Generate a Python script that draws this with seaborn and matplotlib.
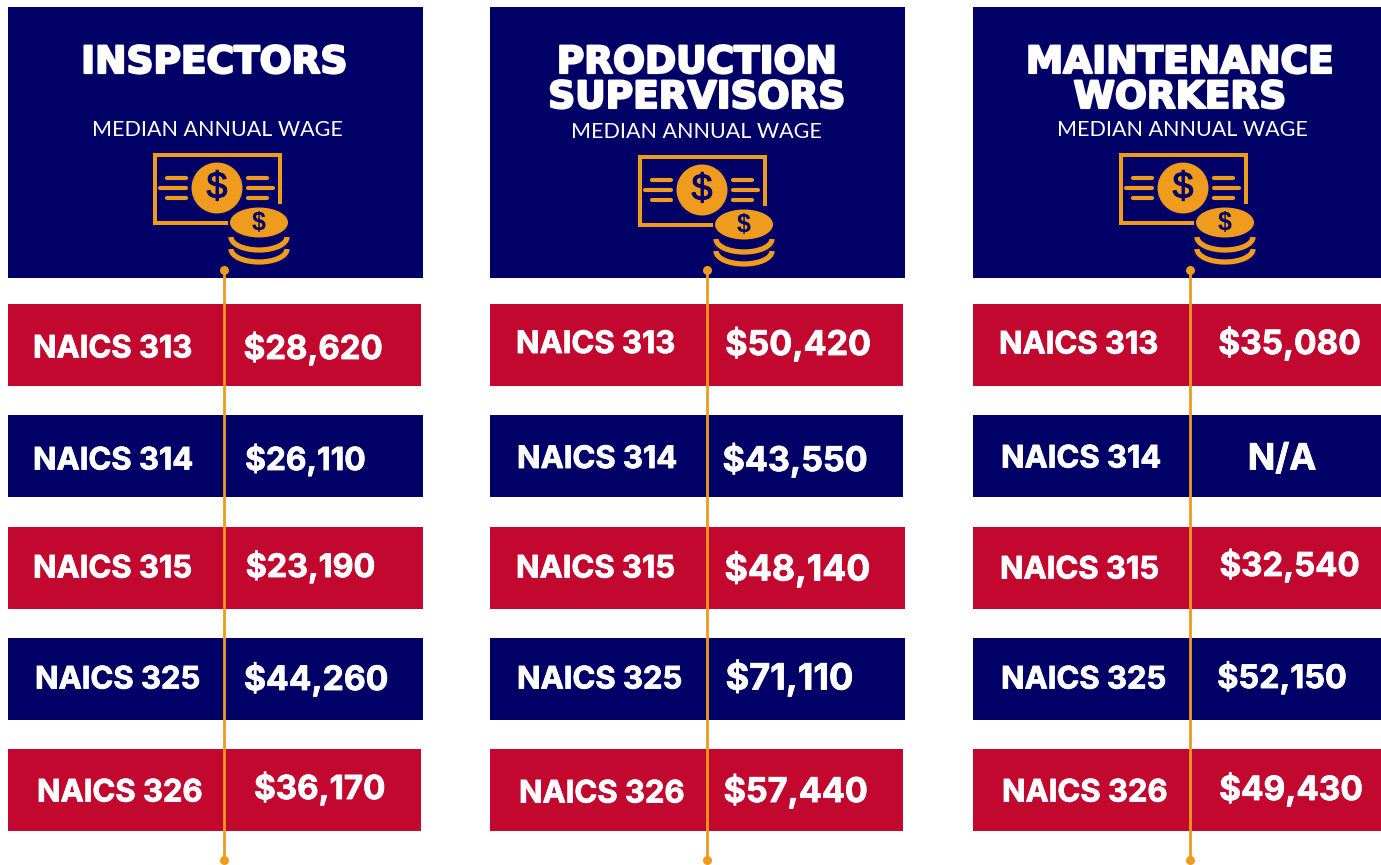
import matplotlib
matplotlib.use("Agg")
import matplotlib.pyplot as plt
import matplotlib.patheffects as pe
from matplotlib.patches import Rectangle, Ellipse, Circle, Arc
import seaborn as sns
import pandas as pd

# ---- data ----
occupations = ["INSPECTORS", "PRODUCTION\nSUPERVISORS", "MAINTENANCE\nWORKERS"]
subtitle = "MEDIAN ANNUAL WAGE"
naics = ["NAICS 313", "NAICS 314", "NAICS 315", "NAICS 325", "NAICS 326"]
wages_inspectors = ["$28,620", "$26,110", "$23,190", "$44,260", "$36,170"]
wages_supervisors = ["$50,420", "$43,550", "$48,140", "$71,110", "$57,440"]
wages_maintenance = ["$35,080", "N/A", "$32,540", "$52,150", "$49,430"]
cell_span = [1, 1, 1, 1, 1]

# ---- palette ----
NAVY, RED, GOLD = "#000066", "#C2082F", "#EE9B1E"
row_colors = [RED, NAVY, RED, NAVY, RED]

# ---- layout (pixels) ----
W, H = 1381, 865
panel_left = [8, 490, 973]
panel_width = [415, 415, 415]
row_right = [[421, 423, 423, 423, 421], [903, 903, 905, 905, 903], [1381] * 5]
line_x = [224, 707, 1190]
icon_x = [217, 702, 1183]
icon_y = [0, 2, 0]
title_cx = [214.5, 697, 1180]
title_y = [[63], [63, 98], [63, 98]]
sub_x = [217.5, 696, 1182.5]
sub_y = [130, 132, 130]
row_pitch_top, row_pitch_bot = 289.5, 845.9
label_x = [[33, 33, 33, 35, 37], [516, 517, 516, 517, 519], [999, 1001, 1000, 1001, 1002]]
label_y = [[349.5, 461.5, 569.5, 680.5, 793.5], [345, 460, 569.5, 680.5, 794.5], [345.5, 459.5, 570.5, 680.5, 793.5]]
value_x = [[313, 305.5, 310.5, 316, 319.5], [798, 795, 797.5, 789.5, 795.5], [1289.5, 1282, 1289.5, 1282, 1291]]
value_y = [[349, 460, 567, 679, 789], [344, 460, 569, 678, 791], [343, 460, 566, 678, 789]]
value_size = [[23.7, 22.8, 23.2, 24.2, 23.8], [24.5, 24.5, 25.6, 26, 24.5], [24, 26, 23.7, 23.3, 24]]

sns.set_theme(style="white")
fig = plt.figure(figsize=(W / 100, H / 100), dpi=100, facecolor="white")

# rows: one seaborn bar per NAICS code
wages = [wages_inspectors, wages_supervisors, wages_maintenance]
for p in range(3):
    left = panel_left[p]
    ax = fig.add_axes([left / W, 1 - row_pitch_bot / H, panel_width[p] / W,
                       (row_pitch_bot - row_pitch_top) / H])
    df = pd.DataFrame({"naics": naics, "span": cell_span, "wage": wages[p]})
    sns.barplot(data=df, y="naics", x="span", hue="naics", palette=row_colors,
                orient="h", width=0.737, legend=False, ax=ax, saturation=1)
    for bar, r in zip(ax.patches, row_right[p]):
        bar.set_width((r - left) / panel_width[p])
        bar.set_linewidth(0)
    ax.set_xlim(0, 1)
    ax.set_ylim(4.5, -0.5)
    ax.axis("off")
    ax.patch.set_alpha(0)

# overlay in pixel coordinates
ov = fig.add_axes([0, 0, 1, 1], zorder=5)
ov.set_xlim(0, W)
ov.set_ylim(H, 0)
ov.axis("off")
ov.patch.set_alpha(0)


def icon(cx, dy):
    ov.add_patch(Rectangle((cx - 62, 155 + dy), 125, 68, fc="none", ec=GOLD, lw=2.9, zorder=3))
    ov.add_patch(Rectangle((cx + 14, 204 + dy), 60, 26, fc=NAVY, ec="none", zorder=3.1))
    ov.add_patch(Circle((cx, 188 + dy), 25.5, fc=GOLD, ec="none", zorder=4))
    ov.text(cx, 188 + dy, "$", color=NAVY, ha="center", va="center", fontsize=27,
            family="Liberation Sans", zorder=5,
            path_effects=[pe.withStroke(linewidth=0.7, foreground=NAVY)])
    for off, outer_l, outer_r in [(-10, 50, 50), (0, 57, 56), (10, 50, 50)]:
        ov.plot([cx - outer_l, cx - 31], [188 + dy + off] * 2, color=GOLD, lw=3,
                solid_capstyle="round", zorder=4)
        ov.plot([cx + 31, cx + outer_r], [188 + dy + off] * 2, color=GOLD, lw=3,
                solid_capstyle="round", zorder=4)
    ccx = cx + 42
    for yy in (237, 249):
        ov.add_patch(Arc((ccx, yy + dy), 56, 26, theta1=0, theta2=180, ec=GOLD, lw=3.8, zorder=4))
    ov.add_patch(Ellipse((ccx, 223 + dy), 62, 34, fc=NAVY, ec="none", zorder=4.5))
    ov.add_patch(Ellipse((ccx, 222.5 + dy), 58, 30, fc=GOLD, ec="none", zorder=5))
    ov.text(ccx, 223 + dy, "$", color=NAVY, ha="center", va="center", fontsize=18,
            fontweight="bold", family="Liberation Sans", zorder=6)


for p in range(3):
    left = panel_left[p]
    ov.add_patch(Rectangle((left, 7), panel_width[p], 271, fc=NAVY, ec="none", zorder=1))
    for line, y in zip(occupations[p].split("\n"), title_y[p]):
        ov.text(title_cx[p], y, line, color="white", ha="center", va="center",
                fontsize=27, fontweight="bold", family="DejaVu Sans",
                path_effects=[pe.withStroke(linewidth=1.6, foreground="white")], zorder=6)
    ov.text(sub_x[p], sub_y[p], subtitle, color="white", ha="center", va="center",
            fontsize=15.5, family="Lato", fontweight="normal", zorder=6)
    icon(icon_x[p], icon_y[p])
    # connector line
    ov.plot([line_x[p]] * 2, [270, 860], color=GOLD, lw=2, zorder=3, solid_capstyle="butt")
    ov.scatter([line_x[p]] * 2, [270, 860], s=42, color=GOLD, lw=0, zorder=3)
    for r in range(5):
        ov.text(label_x[p][r], label_y[p][r], naics[r], color="white", ha="left", va="center",
                fontsize=22.3, fontweight="bold", family="Inter", zorder=6,
                path_effects=[pe.withStroke(linewidth=0.6, foreground="white")])
        ov.text(value_x[p][r], value_y[p][r], wages[p][r], color="white", ha="center", va="center",
                fontsize=value_size[p][r], fontweight="bold", family="Inter", zorder=6,
                path_effects=[pe.withStroke(linewidth=0.6, foreground="white")])

fig.savefig("out.png", dpi=100)
